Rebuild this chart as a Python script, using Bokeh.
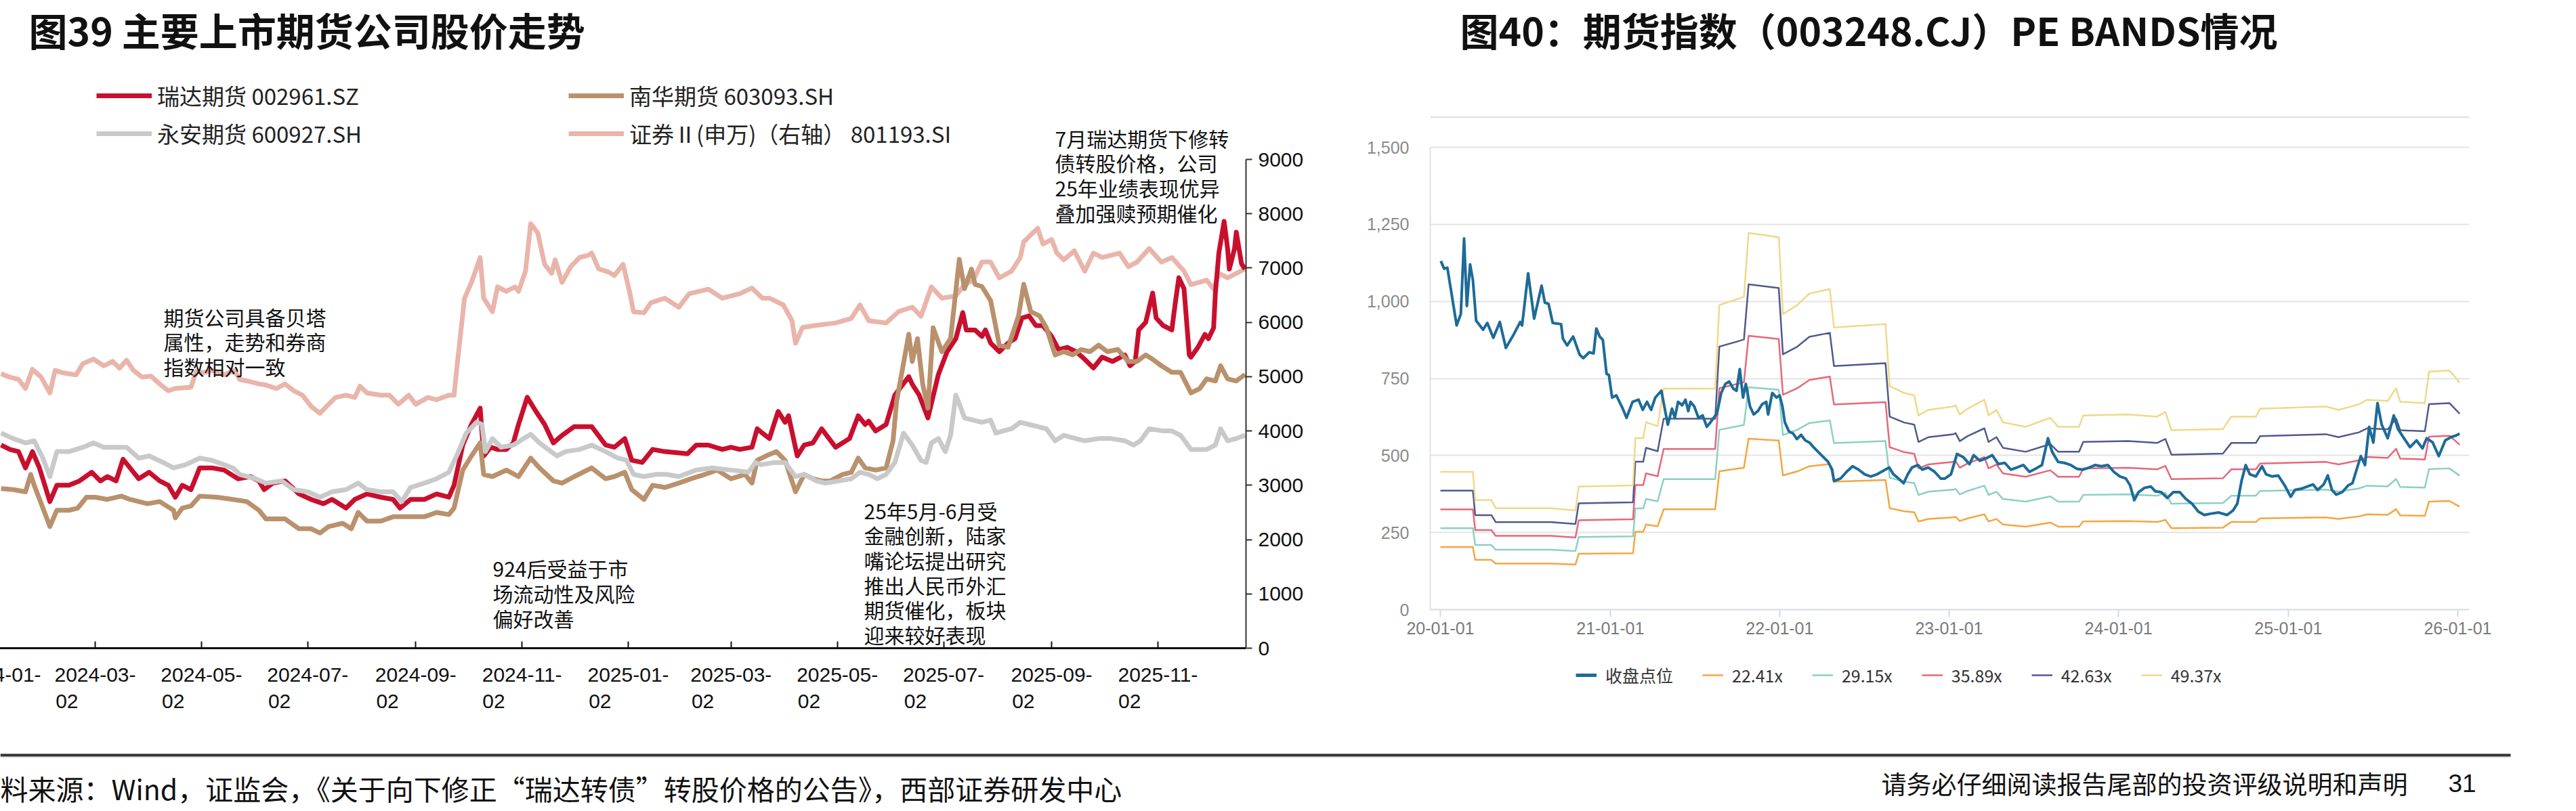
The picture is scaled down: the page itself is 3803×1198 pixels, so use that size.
import pandas as pd
from bokeh.plotting import figure
from bokeh.models import (Range1d, LinearAxis, DatetimeAxis, FixedTicker, DatetimeTickFormatter,
                          NumeralTickFormatter, Legend, LegendItem, Label, BoxAnnotation, Grid)
from bokeh.layouts import row, column
from bokeh.embed import file_html
from bokeh.resources import INLINE

# ======================= 图39 data =======================
ruida_dates = ["2024-01-08","2024-01-13","2024-01-18","2024-01-22","2024-01-26","2024-01-30","2024-02-05","2024-02-09",
"2024-02-16","2024-02-22","2024-02-29","2024-03-05","2024-03-09","2024-03-14","2024-03-18","2024-03-22","2024-03-27",
"2024-04-02","2024-04-08","2024-04-13","2024-04-17","2024-04-21","2024-04-26","2024-05-01","2024-05-08","2024-05-15",
"2024-05-23","2024-05-30","2024-06-04","2024-06-07","2024-06-12","2024-06-19","2024-06-27","2024-07-04","2024-07-11",
"2024-07-16","2024-07-24","2024-07-29","2024-08-05","2024-08-13","2024-08-20","2024-08-24","2024-08-30","2024-09-07",
"2024-09-14","2024-09-21","2024-09-24","2024-09-29","2024-10-04","2024-10-09","2024-10-11","2024-10-15","2024-10-19",
"2024-10-24","2024-10-28","2024-10-31","2024-11-05","2024-11-10","2024-11-15","2024-11-20","2024-11-25","2024-12-02",
"2024-12-12","2024-12-20","2024-12-25","2024-12-31","2025-01-04","2025-01-10","2025-01-16","2025-01-23","2025-02-05",
"2025-02-10","2025-02-17","2025-02-25","2025-03-02","2025-03-07","2025-03-14","2025-03-17","2025-03-20","2025-03-24",
"2025-03-29","2025-04-02","2025-04-04","2025-04-09","2025-04-13","2025-04-18","2025-04-23","2025-05-01","2025-05-05",
"2025-05-09","2025-05-14","2025-05-18","2025-05-20","2025-05-24","2025-05-30","2025-06-04","2025-06-12","2025-06-14",
"2025-06-18","2025-06-23","2025-06-29","2025-07-04","2025-07-09","2025-07-13","2025-07-15","2025-07-20","2025-07-24",
"2025-07-26","2025-07-29","2025-08-03","2025-08-08","2025-08-12","2025-08-16","2025-08-20","2025-08-24","2025-08-28",
"2025-09-02","2025-09-06","2025-09-11","2025-09-16","2025-09-21","2025-09-26","2025-10-01","2025-10-07","2025-10-14",
"2025-10-17","2025-10-20","2025-10-22","2025-10-26","2025-10-30","2025-11-01","2025-11-05","2025-11-10","2025-11-12",
"2025-11-14","2025-11-17","2025-11-20","2025-11-21","2025-11-25","2025-11-29","2025-12-01","2025-12-04","2025-12-05",
"2025-12-07","2025-12-10","2025-12-12","2025-12-13","2025-12-16","2025-12-17","2025-12-20","2025-12-22"]
ruida_price = [18.7,18.3,18.1,16.6,18.1,16.6,13.5,15.0,15.0,15.4,16.2,15.4,15.8,15.4,17.4,16.6,15.6,16.2,15.4,15.0,13.9,
15.0,14.6,16.6,16.6,16.4,15.6,15.8,15.4,14.6,15.2,15.4,14.2,13.7,13.3,13.7,12.9,13.7,14.2,13.9,13.7,12.9,13.7,13.7,14.2,
13.9,15.0,18.7,20.6,22.1,17.7,18.5,18.3,18.3,18.9,20.6,23.1,21.8,20.6,18.9,19.6,20.4,20.4,18.7,18.5,19.3,17.3,17.1,18.3,
18.1,17.9,18.7,18.7,18.3,18.5,18.3,18.5,20.2,19.8,19.3,21.8,20.8,21.4,17.7,18.7,18.9,20.2,18.5,18.9,19.3,21.4,20.6,20.9,
20.0,20.6,23.3,25.0,24.3,23.3,21.2,25.2,27.3,28.5,30.9,29.3,29.3,28.7,29.3,28.1,27.3,28.1,28.5,30.4,30.6,29.7,29.7,28.7,
27.5,27.7,27.3,26.6,25.8,26.8,26.4,27.0,26.0,26.4,29.3,30.0,32.7,30.4,29.7,29.3,31.8,34.1,33.1,27.0,26.8,27.7,28.9,28.5,
29.5,32.7,36.4,39.3,36.8,34.9,36.8,38.3,35.4,34.9]

nanhua_dates = ["2024-01-08","2024-01-15","2024-01-22","2024-01-25","2024-01-27","2024-02-01","2024-02-05","2024-02-09",
"2024-02-16","2024-02-21","2024-02-26","2024-03-02","2024-03-09","2024-03-17","2024-03-22","2024-04-01","2024-04-08",
"2024-04-16","2024-04-17","2024-04-21","2024-04-26","2024-05-01","2024-05-11","2024-05-20","2024-05-28","2024-06-04",
"2024-06-08","2024-06-19","2024-06-27","2024-07-04","2024-07-09","2024-07-14","2024-07-22","2024-07-27","2024-07-31",
"2024-08-05","2024-08-13","2024-08-20","2024-08-30","2024-09-07","2024-09-14","2024-09-21","2024-09-24","2024-09-29",
"2024-10-04","2024-10-09","2024-10-11","2024-10-16","2024-10-24","2024-10-31","2024-11-07","2024-11-12","2024-11-20",
"2024-11-25","2024-12-02","2024-12-12","2024-12-20","2024-12-25","2024-12-31","2025-01-04","2025-01-11","2025-01-16",
"2025-01-23","2025-01-31","2025-02-07","2025-02-15","2025-02-22","2025-03-02","2025-03-10","2025-03-14","2025-03-17",
"2025-03-22","2025-03-28","2025-04-02","2025-04-08","2025-04-13","2025-04-18","2025-04-23","2025-04-28","2025-05-05",
"2025-05-10","2025-05-14","2025-05-18","2025-05-24","2025-05-30","2025-06-03","2025-06-05","2025-06-12","2025-06-14",
"2025-06-17","2025-06-20","2025-06-23","2025-06-26","2025-07-01","2025-07-06","2025-07-11","2025-07-14","2025-07-18",
"2025-07-20","2025-07-24","2025-07-29","2025-08-03","2025-08-08","2025-08-14","2025-08-17","2025-08-21","2025-08-26",
"2025-08-30","2025-09-04","2025-09-09","2025-09-14","2025-09-19","2025-09-24","2025-09-29","2025-10-04","2025-10-10",
"2025-10-16","2025-10-21","2025-10-26","2025-10-30","2025-11-04","2025-11-10","2025-11-15","2025-11-21","2025-11-26",
"2025-11-30","2025-12-05","2025-12-08","2025-12-12","2025-12-17","2025-12-22"]
nanhua_price = [14.7,14.6,14.4,16.0,15.0,12.9,11.2,12.7,12.7,12.9,13.9,13.9,13.7,14.0,13.7,13.3,13.5,12.7,12.0,12.9,13.1,
14.0,13.9,13.7,13.5,12.7,11.9,11.9,11.0,11.0,10.6,11.2,11.5,11.0,12.5,11.7,11.7,12.1,12.1,12.1,12.5,12.3,12.9,16.4,17.7,
18.9,16.0,15.8,16.4,15.8,17.5,16.6,15.4,15.2,15.8,16.6,15.6,15.8,16.2,14.6,13.7,15.0,14.8,15.2,15.6,16.0,16.4,15.6,16.0,
15.2,17.3,17.7,18.1,17.3,14.4,16.0,15.6,15.4,15.4,16.0,16.2,17.5,16.6,16.4,16.6,19.1,22.7,28.9,26.4,28.5,24.3,22.1,29.5,
27.3,28.5,35.8,33.1,34.9,33.5,33.3,32.0,27.9,27.7,30.6,33.5,31.0,30.6,29.5,27.0,27.3,27.0,27.5,27.3,27.9,27.3,27.5,26.4,
26.4,27.0,26.6,26.0,25.4,25.4,23.5,23.9,24.8,24.6,26.0,24.8,24.6,25.2]

yongan_dates = ["2024-01-08","2024-01-15","2024-01-22","2024-01-27","2024-02-01","2024-02-05","2024-02-09","2024-02-16",
"2024-02-24","2024-03-01","2024-03-07","2024-03-14","2024-03-20","2024-03-27","2024-04-02","2024-04-10","2024-04-16",
"2024-04-23","2024-05-01","2024-05-08","2024-05-15","2024-05-20","2024-05-24","2024-06-02","2024-06-08","2024-06-17",
"2024-06-24","2024-07-02","2024-07-09","2024-07-16","2024-07-24","2024-07-31","2024-08-05","2024-08-13","2024-08-20",
"2024-08-25","2024-08-30","2024-09-07","2024-09-14","2024-09-21","2024-09-26","2024-10-01","2024-10-07","2024-10-10",
"2024-10-12","2024-10-16","2024-10-21","2024-10-28","2024-11-03","2024-11-07","2024-11-12","2024-11-17","2024-11-22",
"2024-11-27","2024-12-05","2024-12-12","2024-12-20","2024-12-27","2025-01-01","2025-01-05","2025-01-11","2025-01-18",
"2025-01-24","2025-01-31","2025-02-10","2025-02-19","2025-03-02","2025-03-12","2025-03-16","2025-03-19","2025-03-27",
"2025-04-02","2025-04-08","2025-04-13","2025-04-20","2025-04-25","2025-05-03","2025-05-10","2025-05-15","2025-05-20",
"2025-05-25","2025-05-30","2025-06-04","2025-06-09","2025-06-14","2025-06-19","2025-06-22","2025-06-25","2025-06-29",
"2025-07-03","2025-07-06","2025-07-09","2025-07-11","2025-07-14","2025-07-19","2025-07-24","2025-07-29","2025-08-01",
"2025-08-05","2025-08-10","2025-08-15","2025-08-20","2025-08-25","2025-08-30","2025-09-04","2025-09-09","2025-09-16",
"2025-09-21","2025-09-29","2025-10-06","2025-10-14","2025-10-19","2025-10-23","2025-10-28","2025-11-05","2025-11-10",
"2025-11-15","2025-11-21","2025-11-30","2025-12-05","2025-12-08","2025-12-12","2025-12-17","2025-12-22"]
yongan_price = [19.8,19.3,18.9,19.1,17.5,15.8,18.1,18.1,18.5,18.9,18.5,18.5,18.5,17.5,17.7,17.1,16.6,16.9,17.5,17.3,16.9,
16.6,16.0,15.6,15.2,15.4,14.6,14.4,13.9,14.4,14.6,15.2,14.6,14.4,14.4,13.5,14.8,15.2,15.6,16.2,17.9,19.8,20.8,20.6,18.1,
19.3,18.5,18.7,19.3,19.7,18.9,18.3,17.7,18.1,18.3,18.7,18.1,17.5,17.3,16.0,15.8,16.0,16.0,15.8,16.4,16.6,16.4,16.2,17.1,
16.9,17.1,17.1,15.8,16.0,15.4,15.2,15.4,15.6,16.2,16.0,15.6,16.0,17.1,19.8,18.7,17.3,17.1,18.9,19.3,18.1,19.6,23.3,22.5,
21.2,21.0,20.8,21.0,19.8,20.0,20.2,20.8,20.6,20.4,20.2,19.1,19.6,19.3,19.1,19.3,19.3,19.1,18.7,19.1,20.2,20.0,20.0,19.6,
18.3,18.3,18.7,20.2,19.1,19.3,19.6]

sec_index_dates = ["2024-01-08","2024-01-13","2024-01-18","2024-01-22","2024-01-26","2024-01-31","2024-02-05","2024-02-08",
"2024-02-12","2024-02-20","2024-02-24","2024-03-01","2024-03-07","2024-03-12","2024-03-16","2024-03-20","2024-03-24",
"2024-03-29","2024-04-03","2024-04-08","2024-04-13","2024-04-17","2024-04-26","2024-04-29","2024-05-03","2024-05-09",
"2024-05-15","2024-05-21","2024-05-24","2024-05-30","2024-06-04","2024-06-08","2024-06-14","2024-06-19","2024-06-24",
"2024-06-29","2024-07-04","2024-07-09","2024-07-14","2024-07-18","2024-07-24","2024-07-29","2024-08-01","2024-08-05",
"2024-08-13","2024-08-18","2024-08-23","2024-08-29","2024-09-02","2024-09-09","2024-09-14","2024-09-21","2024-09-24",
"2024-09-26","2024-09-30","2024-10-04","2024-10-09","2024-10-11","2024-10-16","2024-10-19","2024-10-24","2024-10-29",
"2024-10-31","2024-11-04","2024-11-07","2024-11-11","2024-11-15","2024-11-19","2024-11-21","2024-11-25","2024-11-30",
"2024-12-05","2024-12-10","2024-12-12","2024-12-16","2024-12-22","2024-12-25","2024-12-30","2025-01-03","2025-01-05",
"2025-01-11","2025-01-15","2025-01-23","2025-01-31","2025-02-06","2025-02-17","2025-02-25","2025-03-07","2025-03-14",
"2025-03-20","2025-03-24","2025-04-01","2025-04-06","2025-04-08","2025-04-12","2025-04-20","2025-05-01","2025-05-10",
"2025-05-15","2025-05-20","2025-05-30","2025-06-06","2025-06-14","2025-06-19","2025-06-25","2025-07-01","2025-07-09",
"2025-07-14","2025-07-19","2025-07-24","2025-07-29","2025-08-03","2025-08-10","2025-08-15","2025-08-17","2025-08-25",
"2025-08-28","2025-09-02","2025-09-05","2025-09-09","2025-09-15","2025-09-21","2025-09-26","2025-10-01","2025-10-11",
"2025-10-16","2025-10-21","2025-10-28","2025-11-04","2025-11-10","2025-11-17","2025-11-21","2025-11-30","2025-12-04",
"2025-12-07","2025-12-12","2025-12-17","2025-12-22"]
sec_index_vals = [5053,4991,4949,4783,5136,4991,4700,5115,5074,5032,5240,5323,5198,5281,5157,5302,5115,4991,5012,4866,
4741,4783,4804,5095,5074,5115,5032,5115,4949,4908,4866,4845,4783,4866,4741,4658,4451,4326,4492,4617,4658,4617,4825,4700,
4658,4658,4492,4658,4492,4617,4575,4658,4658,5281,6445,6736,7193,6445,6196,6653,6570,6653,6570,6943,7816,7650,7068,6902,
7151,6736,7027,7193,7235,7276,6985,6923,6860,7068,6528,6196,6175,6362,6445,6279,6528,6611,6445,6528,6632,6445,6445,6320,
6030,5614,5905,5946,5988,6071,6320,6030,5988,6196,6279,6113,6653,6445,6487,6694,6777,7110,7110,6819,6943,7193,7484,7733,
7442,7525,7276,7151,7317,6943,7276,7193,7276,7027,7110,7359,7110,7193,6943,6694,6777,6611,6902,6819,6902,6985]

left_tick_dates = ["2024-01-02","2024-03-02","2024-05-02","2024-07-02","2024-09-02","2024-11-02","2025-01-02",
                   "2025-03-02","2025-05-02","2025-07-02","2025-09-02","2025-11-02"]
index_axis_ticks = [0, 1000, 2000, 3000, 4000, 5000, 6000, 7000, 8000, 9000]

left_series_names = ["瑞达期货 002961.SZ", "南华期货 603093.SH", "永安期货 600927.SH", "证券Ⅱ(申万)（右轴） 801193.SI"]

# ======================= 图40 data =======================
close_dates = ["2020-01-02","2020-01-09","2020-01-16","2020-02-05","2020-02-14","2020-02-21","2020-02-27","2020-03-05",
"2020-03-11","2020-03-18","2020-04-02","2020-04-11","2020-04-24","2020-05-08","2020-05-21","2020-06-07","2020-06-21",
"2020-06-25","2020-07-08","2020-07-21","2020-08-06","2020-08-13","2020-08-21","2020-08-30","2020-09-17","2020-09-21",
"2020-09-30","2020-10-13","2020-10-27","2020-11-04","2020-11-17","2020-11-26","2020-12-02","2020-12-09","2020-12-16",
"2020-12-24","2020-12-29","2021-01-05","2021-01-14","2021-01-27","2021-02-05","2021-02-18","2021-03-03","2021-03-12",
"2021-03-21","2021-03-30","2021-04-08","2021-04-21","2021-05-05","2021-05-14","2021-05-20","2021-05-27","2021-06-05",
"2021-06-12","2021-06-18","2021-06-23","2021-07-01","2021-07-10","2021-07-19","2021-07-28","2021-08-05","2021-08-19",
"2021-08-28","2021-09-06","2021-09-14","2021-09-23","2021-09-30","2021-10-07","2021-10-14","2021-10-20","2021-10-29",
"2021-11-06","2021-11-15","2021-11-24","2021-12-03","2021-12-07","2021-12-16","2021-12-25","2022-01-01","2022-01-07",
"2022-01-12","2022-01-21","2022-01-30","2022-02-07","2022-02-16","2022-02-25","2022-03-06","2022-03-15","2022-03-24",
"2022-04-01","2022-04-15","2022-04-24","2022-04-28","2022-05-12","2022-05-25","2022-06-07","2022-06-20","2022-07-03",
"2022-07-16","2022-07-30","2022-08-12","2022-08-25","2022-09-03","2022-09-12","2022-09-25","2022-10-04","2022-10-13",
"2022-10-26","2022-11-04","2022-11-17","2022-12-01","2022-12-14","2022-12-23","2023-01-05","2023-01-18","2023-02-01",
"2023-02-14","2023-02-23","2023-03-08","2023-03-22","2023-04-04","2023-04-17","2023-05-01","2023-05-14","2023-05-27",
"2023-06-10","2023-06-23","2023-07-06","2023-07-20","2023-08-02","2023-08-11","2023-08-24","2023-09-06","2023-09-20",
"2023-10-03","2023-10-16","2023-10-30","2023-11-12","2023-11-25","2023-12-09","2023-12-22","2024-01-04","2024-01-17",
"2024-01-26","2024-02-04","2024-02-13","2024-02-26","2024-03-11","2024-03-20","2024-04-02","2024-04-15","2024-04-28",
"2024-05-12","2024-05-25","2024-06-07","2024-06-21","2024-07-04","2024-07-17","2024-08-04","2024-08-22","2024-09-04",
"2024-09-13","2024-09-22","2024-10-01","2024-10-10","2024-10-23","2024-11-05","2024-11-14","2024-11-27","2024-12-10",
"2024-12-24","2025-01-06","2025-01-15","2025-01-28","2025-02-10","2025-02-23","2025-03-05","2025-03-18","2025-03-27",
"2025-04-05","2025-04-14","2025-04-27","2025-05-10","2025-05-19","2025-05-28","2025-06-06","2025-06-15","2025-06-24",
"2025-07-03","2025-07-12","2025-07-21","2025-08-03","2025-08-16","2025-08-25","2025-09-07","2025-09-20","2025-10-04",
"2025-10-17","2025-10-26","2025-11-08","2025-11-21","2025-12-05","2025-12-18","2025-12-27","2026-01-05"]
close_vals = [1131,1106,1109,922,959,1204,985,1120,1069,937,908,930,882,933,849,893,933,922,1091,944,1051,996,992,930,
926,879,857,886,827,816,835,831,912,886,875,765,761,688,695,655,622,674,681,648,674,648,688,710,600,652,622,674,663,681,
644,674,659,622,630,593,608,637,703,732,740,717,710,780,688,732,659,633,644,666,674,633,703,688,695,659,608,578,571,553,
567,549,542,527,513,501,480,454,417,425,447,465,454,439,432,439,450,461,439,428,410,439,461,469,454,461,447,425,425,439,
505,494,472,501,483,491,501,472,476,454,461,469,447,457,469,556,512,479,476,469,457,454,461,469,465,469,447,432,425,403,
355,381,395,399,384,381,362,381,381,359,344,318,307,311,315,307,322,344,417,469,439,432,465,439,432,435,403,366,388,392,
399,406,388,406,435,388,373,381,403,410,454,498,469,593,542,670,600,556,630,586,556,527,549,523,556,542,498,549,560,564,571]

eps_dates = ["2020-01-01","2020-03-11","2020-03-16","2020-04-20","2020-04-29","2020-08-26","2020-10-18","2020-10-25",
"2021-02-19","2021-02-24","2021-03-13","2021-03-19","2021-04-13","2021-04-26","2021-08-15","2021-08-24","2021-10-07",
"2021-10-16","2021-10-26","2021-12-30","2022-01-08","2022-02-08","2022-03-06","2022-04-19","2022-04-28","2022-08-17",
"2022-08-26","2022-09-26","2022-10-18","2022-10-27","2022-11-18","2023-01-10","2023-01-15","2023-01-24","2023-02-10",
"2023-03-18","2023-03-27","2023-04-13","2023-04-27","2023-06-15","2023-08-07","2023-08-24","2023-10-08","2023-10-17",
"2024-01-22","2024-03-24","2024-04-11","2024-04-24","2024-08-13","2024-08-31","2024-10-23","2024-11-01","2025-03-23",
"2025-04-19","2025-06-02","2025-06-20","2025-08-03","2025-08-21","2025-08-30","2025-10-22","2025-10-31","2025-12-14",
"2026-01-05"]
eps_vals = [9.054,9.054,7.191,7.191,6.664,6.664,6.522,8.082,8.163,11.262,11.262,12.315,12.052,14.523,14.523,20.012,
20.458,20.559,24.752,24.468,19.425,20.012,20.762,21.065,18.534,18.756,14.685,14.239,14.077,12.761,13.125,13.348,13.429,
12.822,13.206,13.794,12.761,13.125,12.315,12.011,12.599,12.011,12.011,12.761,12.822,12.680,12.984,11.789,11.870,12.680,
12.680,13.206,13.348,13.125,13.490,13.794,13.713,14.543,13.652,13.571,15.637,15.718,14.908]
pe_multiples = [22.41, 29.15, 35.89, 42.63, 49.37]
close_name = "收盘点位"
right_tick_dates = ["2020-01-01","2021-01-01","2022-01-01","2023-01-01","2024-01-01","2025-01-01","2026-01-01"]
right_y_ticks = [0, 250, 500, 750, 1000, 1250, 1500]

# ======================= styles =======================
CJK = "Noto Sans CJK SC"
LAT = "Liberation Sans"
RED, TAN, GREY, PINK = "#c8102e", "#b9916c", "#c9c9c9", "#e9b5ab"
BLUE = "#1d6b98"
BAND_COLORS = ["#f4a640", "#8dcfc6", "#e6677a", "#4f5a8c", "#f1d888"]
PAGE_H = 1198
TOP_H = 1090
NAN = float("nan")


def ms(d):
    return pd.Timestamp(d).value / 1e6


def fmt_all(f):
    keys = ["microseconds", "milliseconds", "seconds", "minsec", "minutes", "hourmin",
            "hours", "days", "months", "years"]
    return DatetimeTickFormatter(**{k: f for k in keys})


def add_lines(p, lines, x, y0, dy, size, frame_left_page, frame_bottom_page, bold=False, color="#111111"):
    for i, t in enumerate(lines):
        p.add_layout(Label(x=x - frame_left_page, y=frame_bottom_page - (y0 + i * dy),
                           x_units="screen", y_units="screen", text=t,
                           text_font=CJK, text_font_size=size, text_baseline="middle",
                           text_font_style="bold" if bold else "normal", text_color=color))


def make_legend(items, x_page, top_page, frame_left_page, frame_bottom_page, glyph_w, glyph_h, standoff,
                spacing, size, orient, color="#222222"):
    lg = Legend(items=items, orientation=orient, glyph_width=glyph_w, glyph_height=glyph_h,
                label_height=glyph_h, label_standoff=standoff, spacing=spacing, padding=0, margin=0,
                border_line_color=None, background_fill_alpha=0,
                label_text_font=CJK, label_text_font_size=size, label_text_color=color)
    n = len(items) if orient == "vertical" else 1
    height = n * glyph_h + (n - 1) * spacing
    lg.location = (x_page - frame_left_page, frame_bottom_page - top_page - height)
    return lg


def clean(p):
    p.outline_line_color = None
    p.background_fill_color = "white"
    p.border_fill_color = "white"


# ======================= left figure (图39) =======================
SHIFT = 60                       # figure is pulled left so the first tick label is cut by the page edge
L_W = 1950 + SHIFT
L_FL, L_FR, L_FT, L_FB = -SHIFT, 1839, 0, 957      # frame box, page coords
px_day_L = 2.572
anchor_L = pd.Timestamp("2024-03-02")
anchor_px_L = 140
xs_L = anchor_L - pd.Timedelta(days=(anchor_px_L - L_FL) / px_day_L)
xe_L = anchor_L + pd.Timedelta(days=(L_FR - anchor_px_L) / px_day_L)
idx_top = 9000 * (L_FB - L_FT) / (L_FB - 235)

p1 = figure(width=L_W, height=TOP_H, output_backend="svg", toolbar_location=None,
            x_axis_type=None, y_axis_type=None, title=None, frame_align=False,
            x_range=Range1d(xs_L.to_pydatetime(), xe_L.to_pydatetime()),
            y_range=Range1d(0, idx_top),
            min_border_left=0, min_border_right=L_W - (L_FR - L_FL),
            min_border_top=L_FT, min_border_bottom=TOP_H - L_FB)
p1.margin = (0, 0, 0, -SHIFT)
p1.extra_y_ranges = {"stock": Range1d(0, idx_top / 200)}
clean(p1)

r_pink = p1.line(pd.to_datetime(sec_index_dates), sec_index_vals, line_color=PINK, line_width=7, line_join="round")
r_red = p1.line(pd.to_datetime(ruida_dates), ruida_price, line_color=RED, line_width=7, line_join="round",
                y_range_name="stock")
r_tan = p1.line(pd.to_datetime(nanhua_dates), nanhua_price, line_color=TAN, line_width=7, line_join="round",
                y_range_name="stock")
r_grey = p1.line(pd.to_datetime(yongan_dates), yongan_price, line_color=GREY, line_width=7, line_join="round",
                 y_range_name="stock")

xax1 = DatetimeAxis(ticker=FixedTicker(ticks=[ms(d) for d in left_tick_dates]),
                    formatter=fmt_all("%Y-%m-\n%d" + "\u00a0" * 10))
xax1.axis_line_color = "#111111"
xax1.axis_line_width = 3
xax1.major_tick_in = 10
xax1.major_tick_out = 0
xax1.major_tick_line_color = "#111111"
xax1.major_tick_line_width = 2
xax1.minor_tick_line_color = None
xax1.major_label_standoff = 22
xax1.major_label_text_font = LAT
xax1.major_label_text_font_size = "30px"
xax1.major_label_text_color = "#111111"
p1.add_layout(xax1, "below")

yax1 = LinearAxis(ticker=FixedTicker(ticks=index_axis_ticks), bounds=(0, 9000))
yax1.axis_line_color = "#333333"
yax1.axis_line_width = 2
yax1.major_tick_out = 9
yax1.major_tick_in = 0
yax1.major_tick_line_color = "#333333"
yax1.major_tick_line_width = 2
yax1.minor_tick_line_color = None
yax1.major_label_standoff = 9
yax1.major_label_text_font = LAT
yax1.major_label_text_font_size = "30px"
yax1.major_label_text_color = "#111111"
p1.add_layout(yax1, "right")

p1.add_layout(make_legend([LegendItem(label=left_series_names[0], renderers=[r_red]),
                           LegendItem(label=left_series_names[2], renderers=[r_grey])],
                          142, 137, L_FL, L_FB, 82, 38, 8, 8, "33px", "vertical"), "center")
p1.add_layout(make_legend([LegendItem(label=left_series_names[1], renderers=[r_tan]),
                           LegendItem(label=left_series_names[3], renderers=[r_pink])],
                          839, 137, L_FL, L_FB, 82, 38, 8, 8, "33px", "vertical"), "center")

add_lines(p1, ["图39 主要上市期货公司股价走势"], 42, 42, 0, "57px", L_FL, L_FB, bold=True)
add_lines(p1, ["期货公司具备贝塔", "属性，走势和券商", "指数相对一致"], 241, 467, 36.5, "30px", L_FL, L_FB)
add_lines(p1, ["924后受益于市", "场流动性及风险", "偏好改善"], 727, 838, 37, "30px", L_FL, L_FB)
add_lines(p1, ["25年5月-6月受", "金融创新，陆家", "嘴论坛提出研究", "推出人民币外汇", "期货催化，板块",
               "迎来较好表现"], 1275, 753, 36.7, "30px", L_FL, L_FB)
add_lines(p1, ["7月瑞达期货下修转", "债转股价格，公司", "25年业绩表现优异", "叠加强赎预期催化"],
          1557, 203, 36.7, "30px", L_FL, L_FB)

# ======================= right figure (图40): chart part =======================
R_X0 = 1950
R_W = 3803 - R_X0
RC_H = 965                                         # height of the chart part (legend strip below)
R_FL, R_FR, R_FT, R_FB = 2111, 3645, 0, 900       # frame box, page coords (frame bottom = value 0)
TOP_Y = 217                                        # page y of value 1500
k_R = (R_FB - TOP_Y) / 1500
px_day_R = (3628 - 2126) / 2192
anchor_R = pd.Timestamp("2020-01-01")
xs_R = anchor_R - pd.Timedelta(days=(2126 - R_FL) / px_day_R)
xe_R = anchor_R + pd.Timedelta(days=(R_FR - 2126) / px_day_R)

p2 = figure(width=R_W, height=RC_H, output_backend="svg", toolbar_location=None,
            x_axis_type=None, y_axis_type=None, title=None, frame_align=False,
            x_range=Range1d(xs_R.to_pydatetime(), xe_R.to_pydatetime()),
            y_range=Range1d(0, (R_FB - R_FT) / k_R),
            min_border_left=R_FL - R_X0, min_border_right=R_X0 + R_W - R_FR,
            min_border_top=R_FT, min_border_bottom=RC_H - R_FB)
clean(p2)

ytick2 = FixedTicker(ticks=right_y_ticks)
p2.add_layout(Grid(dimension=1, ticker=ytick2, grid_line_color="#e4e4e4", grid_line_width=2))

band_renderers = []
for pe, col in zip(pe_multiples, BAND_COLORS):
    band = [pe * e for e in eps_vals]
    band_renderers.append(p2.line(pd.to_datetime(eps_dates), band, line_color=col, line_width=2.5,
                                  line_join="round"))
r_close = p2.line(pd.to_datetime(close_dates), close_vals, line_color=BLUE, line_width=4, line_join="round")

yax2 = LinearAxis(ticker=ytick2, formatter=NumeralTickFormatter(format="0,0"), bounds=(0, 1500))
yax2.axis_line_color = "#dde1e8"
yax2.axis_line_width = 2
yax2.major_tick_out = 0
yax2.major_tick_in = 0
yax2.minor_tick_line_color = None
yax2.major_label_standoff = 31
yax2.major_label_text_font = LAT
yax2.major_label_text_font_size = "25px"
yax2.major_label_text_color = "#8a8a8a"
p2.add_layout(yax2, "left")

xax2 = DatetimeAxis(ticker=FixedTicker(ticks=[ms(d) for d in right_tick_dates]), formatter=fmt_all("%y-%m-%d"))
xax2.axis_line_color = "#d5dae2"
xax2.axis_line_width = 2
xax2.major_tick_out = 11
xax2.major_tick_in = 0
xax2.major_tick_line_color = "#d5dae2"
xax2.major_tick_line_width = 2
xax2.minor_tick_line_color = None
xax2.major_label_standoff = 7
xax2.major_label_text_font = LAT
xax2.major_label_text_font_size = "25px"
xax2.major_label_text_color = "#7a7a7a"
p2.add_layout(xax2, "below")

p2.add_layout(BoxAnnotation(left=2007 - R_FL, right=3678 - R_FL, bottom=R_FB - 174, top=R_FB - 171,
                            left_units="screen", right_units="screen", top_units="screen", bottom_units="screen",
                            fill_color="#e6e6e6", fill_alpha=1, line_color=None))
add_lines(p2, ["图40：期货指数（003248.CJ）PE BANDS情况"], 2155, 42, 0, "57px", R_FL, R_FB, bold=True)

# ======================= right figure (图40): legend strip =======================
LEG_H = TOP_H - RC_H
p2l = figure(width=R_W, height=LEG_H, output_backend="svg", toolbar_location=None,
             x_axis_type=None, y_axis_type=None, title=None, frame_align=False,
             x_range=Range1d(0, 1), y_range=Range1d(0, 1), min_border=0)
clean(p2l)
# legend swatches only (no data points): same styles as the chart lines
leg_close = p2l.line(x=[NAN], y=[NAN], line_color=BLUE, line_width=5)
leg_bands = [p2l.line(x=[NAN], y=[NAN], line_color=col, line_width=2.5) for col in BAND_COLORS]
items2 = [LegendItem(label=close_name, renderers=[leg_close])] + \
         [LegendItem(label=f"{pe:.2f}x", renderers=[r]) for pe, r in zip(pe_multiples, leg_bands)]
lg2 = Legend(items=items2, orientation="horizontal", glyph_width=31, glyph_height=30, label_height=30,
             label_standoff=13, spacing=43, padding=0, margin=0, border_line_color=None,
             background_fill_alpha=0, label_text_font=CJK, label_text_font_size="25px",
             label_text_color="#333333")
lg2.location = (2326 - R_X0, TOP_H - 985 - 30)
p2l.add_layout(lg2, "center")

# ======================= footer =======================
p3 = figure(width=3803, height=PAGE_H - TOP_H, output_backend="svg", toolbar_location=None,
            x_axis_type=None, y_axis_type=None, title=None, frame_align=False,
            x_range=Range1d(0, 3803), y_range=Range1d(PAGE_H - TOP_H, 0), min_border=0)
clean(p3)
p3.add_layout(BoxAnnotation(left=0, right=3706, top=23, bottom=26.5, fill_color="#333333", fill_alpha=1,
                            line_color=None))
p3.add_layout(BoxAnnotation(left=0, right=3706, top=26.5, bottom=28, fill_color="#9a9a9a", fill_alpha=1,
                            line_color=None))
p3.add_layout(Label(x=0, y=73, text="料来源：Wind，证监会，《关于向下修正“瑞达转债”转股价格的公告》，西部证券研发中心",
                    text_font=CJK, text_font_size="41px", text_baseline="middle", text_color="#111111"))
p3.add_layout(Label(x=2777, y=66, text="请务必仔细阅读报告尾部的投资评级说明和声明",
                    text_font=CJK, text_font_size="37px", text_baseline="middle", text_color="#111111"))
p3.add_layout(Label(x=3614, y=66, text="31", text_font=LAT, text_font_size="37px",
                    text_baseline="middle", text_color="#111111"))

layout = column(row(p1, column(p2, p2l, spacing=0), spacing=0), p3, spacing=0)
open("out.html", "w").write(file_html(layout, INLINE))
